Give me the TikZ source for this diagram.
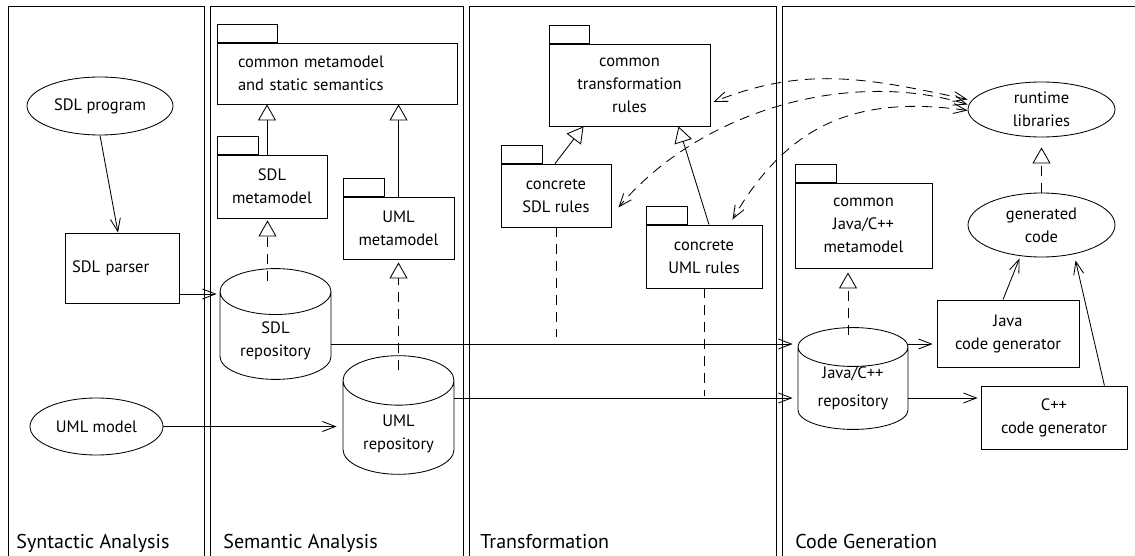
\documentclass[tikz,border=0pt]{standalone}
\usepackage{fontspec}
\setmainfont{PT Sans}
\usetikzlibrary{arrows.meta,positioning,shapes.geometric}

\begin{document}
\begin{tikzpicture}[
  x=1pt, y=1pt, line width=0.85pt,
  font=\fontsize{16.5}{23}\selectfont,
  lanelbl/.style={anchor=base west, inner sep=0pt, font=\fontsize{20}{24}\selectfont},
  box/.style={draw, align=center, inner sep=2pt},
  pkg/.style={draw, align=center, inner sep=2pt},
  tab/.style={draw, minimum width=41pt, minimum height=18pt, inner sep=0pt},
  oval/.style={draw, ellipse, align=center, inner sep=0pt},
  repo/.style={draw, cylinder, shape border rotate=90, aspect=0.65, align=center,
    inner sep=0pt, minimum width=111pt, minimum height=104pt, anchor=shape center},
  arr/.style={-{Straight Barb[length=13pt,width=10pt]}},
  gen/.style={-{Triangle[open,length=16pt,width=18pt]}},
  real/.style={gen, dash pattern=on 10pt off 7pt},
  dep/.style={dash pattern=on 10pt off 7pt},
  link/.style={{Straight Barb[length=13pt,width=10pt]}-{Straight Barb[length=13pt,width=10pt]},
    dash pattern=on 10pt off 7pt}
]
\clip (0,0) rectangle (1135,-556);

% lanes
\foreach \l/\r in {8/204, 210/463, 469/776, 782/1150}
  \draw (\l,-6) rectangle (\r,-570);
\node[lanelbl] (syn) at (16,-548) {Syntactic Analysis};
\node[lanelbl] (sem) at (223,-548) {Semantic Analysis};
\node[lanelbl] (trf) at (480,-548) {Transformation};
\node[lanelbl] (cgn) at (795,-548) {Code Generation};

% syntactic analysis
\node[oval, minimum width=146pt, minimum height=58pt] (prog) at (100,-106) {SDL program};
\node[box, minimum width=114pt, minimum height=70pt, text width=100pt, align=left] (parser) at (122,-268) {SDL parser};
\node[oval, minimum width=133pt, minimum height=57pt] (umlm) at (96.5,-426.5) {UML model};

% semantic analysis
\node[pkg, minimum width=240pt, minimum height=61pt, text width=198pt, align=left] (cmm) at (337,-73.5) {common metamodel\\and static semantics};
\node[tab, minimum width=60pt, above right=0pt of cmm.north west] (cmmtab) {};
\node[pkg, minimum width=110pt, minimum height=63pt] (smm) at (272,-186.5) {SDL\\metamodel};
\node[tab, above right=0pt of smm.north west] (smmtab) {};
\node[pkg, minimum width=111pt, minimum height=62pt] (umm) at (398.5,-228) {UML\\metamodel};
\node[tab, above right=0pt of umm.north west] (ummtab) {};
\node[repo, text height=41.5pt, text depth=-2.5pt] (sdlrep) at (275.5,-324) {SDL\\repository};
\node[repo, aspect=0.7, text height=44pt, text depth=-7pt] (umlrep) at (398.5,-415) {UML\\repository};

% transformation
\node[pkg, minimum width=161pt, minimum height=82pt] (ctr) at (629.5,-85) {common\\transformation\\rules};
\node[tab, minimum width=40pt, above right=0pt of ctr.north west] (ctrtab) {};
\node[pkg, minimum width=110pt, minimum height=63pt] (srl) at (556,-195.5) {concrete\\SDL rules};
\node[tab, above right=0pt of srl.north west] (srltab) {};
\node[pkg, minimum width=116pt, minimum height=63pt] (url) at (704,-256.5) {concrete\\UML rules};
\node[tab, above right=0pt of url.north west] (urltab) {};

% code generation
\node[oval, minimum width=147pt, minimum height=55pt] (rt) at (1041.5,-109.5) {runtime\\libraries};
\node[oval, minimum width=147pt, minimum height=64pt] (gcode) at (1041.5,-225) {generated\\code};
\node[pkg, minimum width=137pt, minimum height=85pt] (jmm) at (863.5,-225.5) {common\\Java/C++\\metamodel};
\node[tab, above right=0pt of jmm.north west] (jmmtab) {};
\node[repo, minimum width=110pt, minimum height=97pt, aspect=0.55] (jrep) at (853,-378.5) {Java/C++\\[5pt]repository};
\node[box, minimum width=142pt, minimum height=67pt] (jgen) at (1008,-333.5) {Java\\code generator};
\node[box, minimum width=146pt, minimum height=63pt] (cgen) at (1054,-417.5) {C++\\code generator};

% connectors
\draw[arr] (prog.south) -- ([xshift=-4pt]parser.north);
\draw[arr] ([yshift=-26pt]parser.east) -- ([xshift=-3pt,yshift=-26pt]parser.east -| sdlrep.west);
\draw[arr] (umlm.east) -- ([xshift=-6pt]umlm.east -| umlrep.west);

\draw[gen] ([xshift=-5pt]smm.north) -- ([xshift=-5pt]smm.north |- cmm.south);
\draw[gen] (umm.north) -- (umm.north |- cmm.south);
\draw[real] ([xshift=-8pt,yshift=-13pt]sdlrep.north) -- ([xshift=-8pt,yshift=-2pt]sdlrep.north |- smm.south);
\draw[real] ([yshift=-15pt]umlrep.north) -- ([yshift=-3pt]umlrep.north |- umm.south);

\draw[arr] ([yshift=-20pt]sdlrep.shape center -| sdlrep.east) -- ([xshift=-5pt,yshift=-20pt]sdlrep.shape center -| jrep.west);
\draw[arr] ([yshift=17pt]umlrep.shape center -| umlrep.east) -- ([xshift=-5pt,yshift=17pt]umlrep.shape center -| jrep.west);

\draw[gen] ([xshift=-1pt]srl.north) -- ([xshift=-46pt]ctr.south);
\draw[gen] ([xshift=5pt]url.north) -- ([xshift=49pt]ctr.south);
\draw[dep] (srl.south) -- ([yshift=-13pt]sdlrep.shape center -| srl.south);
\draw[dep] (url.south) -- ([yshift=19pt]umlrep.shape center -| url.south);

\draw[link] ([yshift=10pt]rt.west) to[out=168,in=22] ([xshift=3pt,yshift=-17pt]ctr.east);
\draw[link] ([yshift=5pt]rt.west) to[out=163,in=50,looseness=0.88] ([xshift=7pt,yshift=-12pt]srl.east);
\draw[link] ([yshift=-1pt]rt.west) to[out=172,in=60,looseness=1.1] ([xshift=-30pt,yshift=5pt]url.north east);

\draw[real] ([xshift=-5pt,yshift=-8pt]jrep.north) -- ([xshift=-5pt,yshift=-4pt]jrep.north |- jmm.south);
\draw[arr] ([yshift=34.5pt]jrep.shape center -| jrep.east) -- ([xshift=-4pt,yshift=34.5pt]jrep.shape center -| jgen.west);
\draw[arr] ([yshift=-19.5pt]jrep.shape center -| jrep.east) -- ([xshift=-3pt,yshift=-19.5pt]jrep.shape center -| cgen.west);
\draw[arr] ([xshift=-5pt]jgen.north) -- ([xshift=-22pt,yshift=-1pt]gcode.south);
\draw[arr] ([xshift=-23pt]cgen.north east) -- ([xshift=34pt,yshift=-3pt]gcode.south);
\draw[real] (gcode.north) -- ([yshift=-10pt]rt.south);
\end{tikzpicture}
\end{document}
